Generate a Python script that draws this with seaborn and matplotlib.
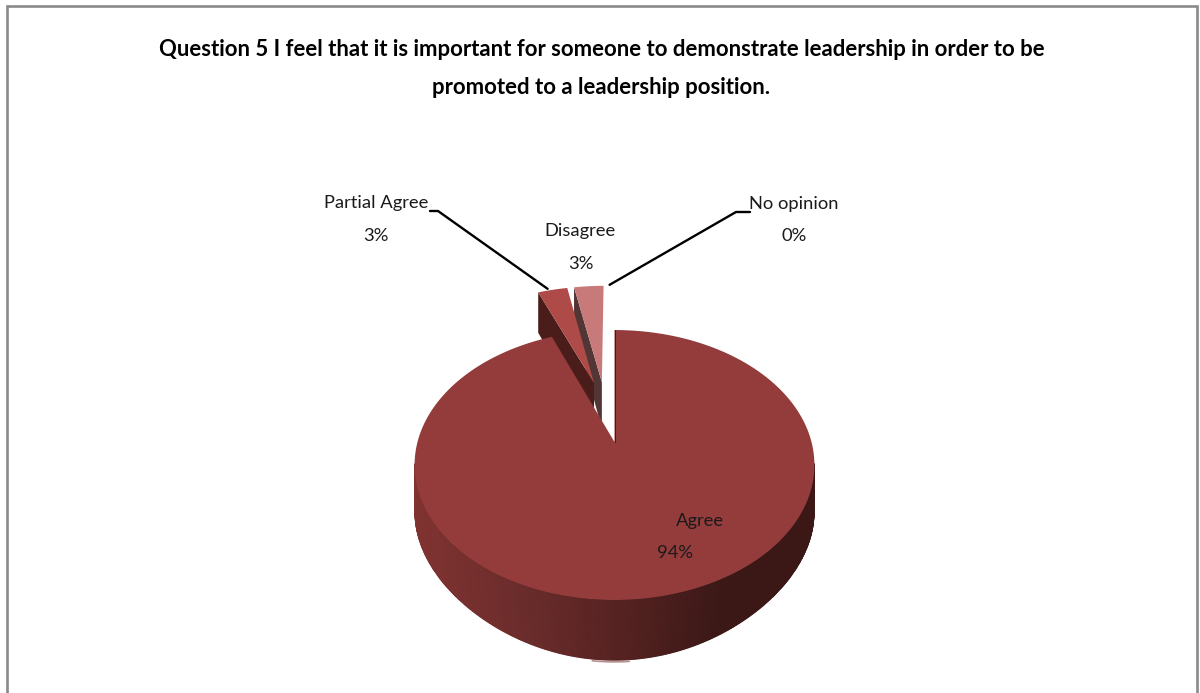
import numpy as np
import matplotlib
matplotlib.use("Agg")
import matplotlib.pyplot as plt
from matplotlib.patches import Polygon
import seaborn as sns

title_lines = ["Question 5 I feel that it is important for someone to demonstrate leadership in order to be",
               "promoted to a leadership position."]
categories = ["Agree", "Partial Agree", "Disagree", "No opinion"]
shares = [94, 3, 3, 0]
top_colors = ["#943c3b", "#ae4a47", "#c87a7a", "#c87a7a"]
cut_colors = ["#4a1c1a", "#4a1c1a", "#523636", "#523636"]
explode = [0.0, 0.5, 0.5, 0.5]
explode_dir = [0.0, 103.0, 98.0, 98.0]

# label anchors in pixels: (x, name y, percent x, percent y)
label_pos = [(700, 521, 675, 553), (376, 203, 376, 236), (580, 231, 581, 264), (794, 204, 794, 236)]

sns.set_theme(style="white")
plt.rcParams["font.family"] = ["Lato", "DejaVu Sans"]

CX, CY, RX, RY, PERSP, DEPTH, TAPER = 614.5, 442.0, 197.0, 131.0, 0.17, 50.0, 0.10


def project(u, v, z=0.0):
    """Perspective view of a point on the disc; z is the fraction of the extrusion depth."""
    w = 1 + PERSP * v
    near = min(v, 0.0)
    return CX + RX * u / w * (1 - TAPER * near * near * z), CY + (-RY * v + DEPTH * z) / w


wall = sns.blend_palette(["#7f3331", "#6a2c2b", "#552221", "#3b1816"], 64)


def wall_color(x):
    t = np.clip((x - 414) / (720 - 414), 0, 1)
    return wall[int(t * (len(wall) - 1))]


fig = plt.figure(figsize=(12, 6.93), dpi=100, facecolor="white")
ax = fig.add_axes([0, 0, 1, 1])
ax.set_xlim(0, 1200)
ax.set_ylim(693, 0)
ax.axis("off")

# chart frame, open at the bottom edge of the canvas
ax.plot([7, 7, 1197, 1197], [693, 6, 6, 693], color="#8a8a8a", lw=1.9, zorder=1, solid_joinstyle="miter")

fractions = np.array(shares, dtype=float) / sum(shares)
edges = 90 - 360 * np.concatenate([[0], np.cumsum(fractions)])
anchors = {}

# exploded slices first, the large one closes the view over them
for order, i in enumerate([2, 1, 3, 0]):
    a0, a1 = edges[i], edges[i + 1]
    du = explode[i] * np.cos(np.radians(explode_dir[i]))
    dv = explode[i] * np.sin(np.radians(explode_dir[i]))
    mid = np.radians((a0 + a1) / 2)
    anchors[i] = project(np.cos(mid) + du, np.sin(mid) + dv)
    if shares[i] == 0:
        continue
    th = np.radians(np.linspace(a0, a1, max(int(abs(a1 - a0)) * 2, 8)))
    u, v = np.cos(th) + du, np.sin(th) + dv
    base_z = 3 + order * 2

    # outer wall as narrow strips, shaded by position; only the front of the rim shows
    for k in range(len(th) - 1):
        if dv > 0 or v[k] > -0.16 or v[k + 1] > -0.16:
            continue
        x0, y0 = project(u[k], v[k])
        x1, y1 = project(u[k + 1], v[k + 1])
        x2, y2 = project(u[k + 1], v[k + 1], 1)
        x3, y3 = project(u[k], v[k], 1)
        c = wall_color((x0 + x1) / 2)
        ax.add_patch(Polygon([(x0, y0), (x1, y1), (x2, y2), (x3, y3)], closed=True,
                             facecolor=c, edgecolor=c, lw=0.8, zorder=base_z))

    # visible cut face of an exploded slice
    if dv > 0:
        pts = [project(u[0], v[0]), project(du, dv), project(du, dv, 1), project(u[0], v[0], 1)]
        ax.add_patch(Polygon(pts, closed=True, facecolor=cut_colors[i], edgecolor="none", zorder=base_z))

    top = [project(uu, vv) for uu, vv in zip(u, v)] + [project(du, dv)]
    ax.add_patch(Polygon(top, closed=True, facecolor=top_colors[i], edgecolor="none", zorder=base_z + 1))

# dark seam along the opening edge of the large slice
ax.plot(*zip(project(0, 0), project(0, 1)), color="#3f1a18", lw=0.7, zorder=12)

# pale glint on the lowest rim
glint = np.radians(np.linspace(-96, -86, 12))
gx = [project(np.cos(g), np.sin(g), 1.03)[0] for g in glint]
gy = [project(np.cos(g), np.sin(g), 1.03)[1] for g in glint]
ax.plot(gx, gy, color="#b89090", lw=1.2, zorder=2)

# leader lines from the outside labels to their slices
ax.plot([430, 438, anchors[1][0] - 5], [211, 211, anchors[1][1] - 1], color="black", lw=1.7, zorder=13)
ax.plot([750, 736, anchors[3][0] + 6], [212, 212, anchors[3][1] - 1], color="black", lw=1.7, zorder=13)

for name, pct, (nx, ny, px, py) in zip(categories, shares, label_pos):
    ax.text(nx, ny, name, ha="center", va="center", fontsize=13.2, color="#1a1a1a", zorder=14)
    ax.text(px, py, f"{pct}%", ha="center", va="center", fontsize=13.2, color="#1a1a1a", zorder=14)

for text, y in zip(title_lines, [50, 87]):
    ax.text(601.5, y, text, ha="center", va="center", fontsize=15.9, fontweight="bold", color="black", zorder=14)

fig.savefig("out.png", dpi=100)
